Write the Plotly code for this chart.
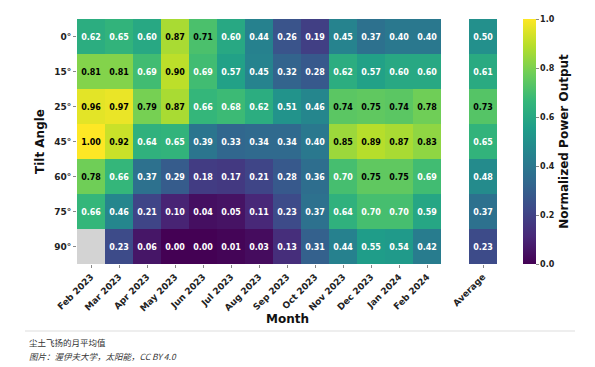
import plotly.graph_objects as go

months = ["Feb 2023", "Mar 2023", "Apr 2023", "May 2023", "Jun 2023", "Jul 2023",
          "Aug 2023", "Sep 2023", "Oct 2023", "Nov 2023", "Dec 2023", "Jan 2024", "Feb 2024"]
tilts = ["0°", "15°", "25°", "45°", "60°", "75°", "90°"]

row_0 = [0.62, 0.65, 0.60, 0.87, 0.71, 0.60, 0.44, 0.26, 0.19, 0.45, 0.37, 0.40, 0.40]
row_15 = [0.81, 0.81, 0.69, 0.90, 0.69, 0.57, 0.45, 0.32, 0.28, 0.62, 0.57, 0.60, 0.60]
row_25 = [0.96, 0.97, 0.79, 0.87, 0.66, 0.68, 0.62, 0.51, 0.46, 0.74, 0.75, 0.74, 0.78]
row_45 = [1.00, 0.92, 0.64, 0.65, 0.39, 0.33, 0.34, 0.34, 0.40, 0.85, 0.89, 0.87, 0.83]
row_60 = [0.78, 0.66, 0.37, 0.29, 0.18, 0.17, 0.21, 0.28, 0.36, 0.70, 0.75, 0.75, 0.69]
row_75 = [0.66, 0.46, 0.21, 0.10, 0.04, 0.05, 0.11, 0.23, 0.37, 0.64, 0.70, 0.70, 0.59]
row_90 = [None, 0.23, 0.06, 0.00, 0.00, 0.01, 0.03, 0.13, 0.31, 0.44, 0.55, 0.54, 0.42]
average = [0.50, 0.61, 0.73, 0.65, 0.48, 0.37, 0.23]

z = [row_0, row_15, row_25, row_45, row_60, row_75, row_90]

# page has an 8px body margin; size the figure to fit the 595x367 window
OFF = 8
W, H = 595 - OFF, 367 - OFF


def px(x):
    return (x - OFF) / W


def py(y):
    return 1 - (y - OFF) / H


def label(v):
    if v is None:
        return ""
    col = "black" if v > 0.705 else "white"
    return f"<span style='color:{col}'>{v:.2f}</span>"


text_main = [[label(v) for v in r] for r in z]
z_avg = [[v] for v in average]
text_avg = [[label(v)] for v in average]

cell_font = dict(family="DejaVu Sans", size=8, color="white", weight="bold")

fig = go.Figure()
fig.add_trace(go.Heatmap(
    z=z, x=months, y=tilts, text=text_main, texttemplate="%{text}",
    textfont=cell_font,
    colorscale="Viridis", zmin=0, zmax=1,
    colorbar=dict(
        x=px(523), xanchor="left", xpad=0, y=py(264), yanchor="bottom", ypad=0,
        len=(264 - 19) / H, lenmode="fraction", thickness=13,
        outlinewidth=0, tickvals=[0, 0.2, 0.4, 0.6, 0.8, 1.0],
        ticktext=["0.0", "0.2", "0.4", "0.6", "0.8", "1.0"],
        ticks="outside", ticklen=3, tickcolor="#888",
        tickfont=dict(family="DejaVu Sans", size=8, color="#222", weight="bold"),
        title=dict(text="Normalized Power Output", side="right",
                   font=dict(family="DejaVu Sans", size=12, color="#111", weight="bold")),
    ),
    hoverongaps=False,
))
fig.add_trace(go.Heatmap(
    z=z_avg, x=["Average"], y=tilts, text=text_avg, texttemplate="%{text}",
    textfont=cell_font,
    colorscale="Viridis", zmin=0, zmax=1, showscale=False,
    xaxis="x2", yaxis="y2",
))

tickfont_x = dict(family="DejaVu Sans", size=9, color="#222", weight="bold")
tickfont_y = dict(family="DejaVu Sans", size=9, color="#222", weight="bold")
ydom = [py(264), py(19)]

fig.update_layout(
    width=W, height=H, margin=dict(l=0, r=0, t=0, b=0, autoexpand=False),
    paper_bgcolor="white", plot_bgcolor="#d3d3d3",
    xaxis=dict(domain=[px(77), px(441)], tickangle=-45, tickfont=tickfont_x,
               ticks="outside", ticklen=3, tickcolor="#888", showgrid=False,
               zeroline=False, anchor="y", automargin=False),
    yaxis=dict(domain=ydom, autorange="reversed", tickfont=tickfont_y,
               ticks="outside", ticklen=3, tickcolor="#888", showgrid=False,
               zeroline=False, anchor="x", automargin=False),
    xaxis2=dict(domain=[px(469), px(497)], tickangle=-45, tickfont=tickfont_x,
                ticks="outside", ticklen=3, tickcolor="#888", showgrid=False,
                zeroline=False, anchor="y2", automargin=False),
    yaxis2=dict(domain=ydom, autorange="reversed", showticklabels=False,
                showgrid=False, zeroline=False, anchor="x2", automargin=False),
    annotations=[
        dict(text="Month", x=px(287), y=py(319), xref="paper", yref="paper",
             xanchor="center", yanchor="middle", showarrow=False,
             font=dict(family="DejaVu Sans", size=12, color="#111", weight="bold")),
        dict(text="Tilt Angle", x=px(40), y=py(142), xref="paper", yref="paper",
             xanchor="center", yanchor="middle", textangle=-90, showarrow=False,
             font=dict(family="DejaVu Sans", size=12, color="#111", weight="bold")),
        dict(text="尘土飞扬的月平均值", x=px(27), y=py(342), xref="paper", yref="paper",
             xanchor="left", yanchor="middle", showarrow=False,
             font=dict(family="Noto Sans CJK SC", size=8.5, color="#333")),
        dict(text="<i>图片：渥伊夫大学，太阳能，CC BY 4.0</i>", x=px(27), y=py(356),
             xref="paper", yref="paper", xanchor="left", yanchor="middle", showarrow=False,
             font=dict(family="Noto Sans CJK SC", size=8.5, color="#333")),
    ],
    shapes=[dict(type="line", xref="paper", yref="paper", x0=px(25), x1=px(575),
                 y0=py(331), y1=py(331), line=dict(color="#dddddd", width=1))],
)

fig.write_html("out.html")
